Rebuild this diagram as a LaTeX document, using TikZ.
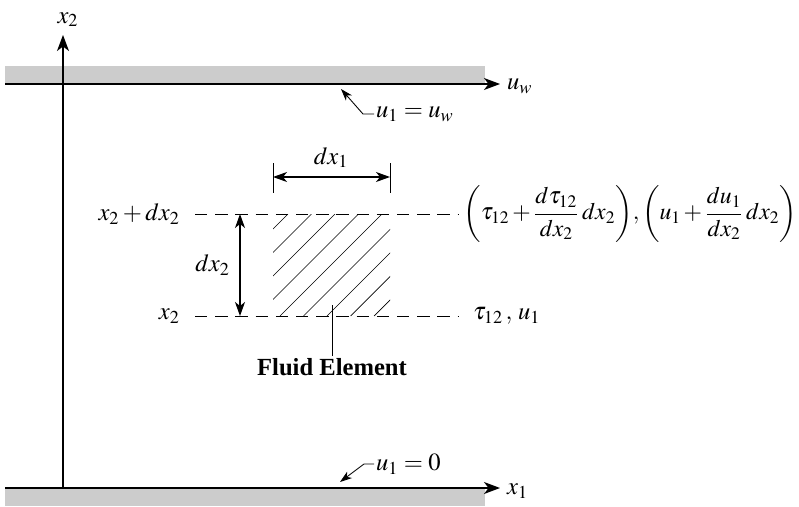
\documentclass[tikz,border=0pt]{standalone}
\usepackage{mathptmx}
\usepackage{fontspec}
\setmainfont{Liberation Serif}
\usetikzlibrary{arrows.meta}
\definecolor{WallGray}{RGB}{204,204,204}
\tikzset{
  axis/.style={-{Stealth[length=3.2mm,width=2.4mm,inset=0.9mm]},line width=0.8pt},
  wall/.style={fill=WallGray,draw=none},
  dimline/.style={{Stealth[length=2.8mm,width=2mm,inset=0.8mm]}-{Stealth[length=2.8mm,width=2mm,inset=0.8mm]},line width=0.7pt},
  leader/.style={-{Stealth[length=2.4mm,width=1.6mm,inset=0.7mm]},line width=0.5pt},
  guide/.style={dash pattern=on 7pt off 4.5pt,line width=0.5pt},
  hatch/.style={line width=0.4pt},
  lbl/.style={inner sep=1pt,font=\fontsize{14}{17}\selectfont}
}

\begin{document}
\begin{tikzpicture}[x=0.02cm,y=-0.02cm]
  \useasboundingbox (0,0) rectangle (799,507);
  % walls
  \fill[wall] (5,66) rectangle (485,84);
  \fill[wall] (5,488) rectangle (485,506);
  \coordinate (topL) at (5,84);
  \coordinate (topR) at (500,84);
  \coordinate (botL) at (5,488);
  \coordinate (botR) at (500,488);
  \coordinate (orig) at (63,488);
  \coordinate (x2tip) at (63,35);
  \draw[axis] (topL) -- (topR);
  \draw[axis] (botL) -- (botR);
  \draw[axis] (orig) -- (x2tip);
  \node[lbl,anchor=south] (x2ax) at (68,29) {$x_2$};
  \node[lbl,anchor=west] (uwax) at (505,86) {$u_w$};
  \node[lbl,anchor=west] (x1ax) at (505,491) {$x_1$};

  % wall velocities
  \node[lbl,anchor=west] (uwlab) at (374,114) {$u_1 = u_w$};
  \coordinate (uwtip) at (341,89);
  \draw[leader] (uwlab.west) -- ++(-11,0) -- (uwtip);
  \node[lbl,anchor=west] (uzlab) at (374,464) {$u_1 = 0$};
  \coordinate (uztip) at (340,482);
  \draw[leader] (uzlab.west) -- ++(-10,0) -- (uztip);

  % fluid element
  \begin{scope}
    \clip (273,214) rectangle (390,316);
    \foreach \k in {-4,...,4}
      \draw[hatch] (280+23.5*\k,316) -- ++(102,-102);
  \end{scope}
  \coordinate (gTL) at (195,214);
  \coordinate (gTR) at (458,214);
  \coordinate (gBL) at (195,316);
  \coordinate (gBR) at (458,316);
  \draw[guide] (gTL) -- (gTR);
  \draw[guide] (gBL) -- (gBR);
  \node[lbl,anchor=east] (ytop) at (182,214) {$x_2 + dx_2$};
  \node[lbl,anchor=east] (ybot) at (182,316) {$x_2$};
  \node[lbl,anchor=west,inner sep=0pt,font=\fontsize{13.5}{16}\selectfont] (stop) at (463,214)
    {$\medmuskip=2mu\displaystyle\biggl(\tau_{12} + \frac{d\tau_{12}}{dx_2}\,dx_2\biggr), \biggl(u_1 + \frac{du_1}{dx_2}\,dx_2\biggr)$};
  \node[lbl,anchor=west] (sbot) at (471,316) {$\tau_{12}\,,\,u_1$};

  % dimensions
  \draw[line width=0.5pt] (273,163) -- (273,193);
  \draw[line width=0.5pt] (390,163) -- (390,193);
  \coordinate (dxL) at (273,177);
  \coordinate (dxR) at (390,177);
  \draw[dimline] (dxL) -- (dxR);
  \node[lbl,anchor=south] (dx1) at (331,170) {$dx_1$};
  \coordinate (dyT) at (240,214);
  \coordinate (dyB) at (240,316);
  \draw[dimline] (dyT) -- (dyB);
  \node[lbl,anchor=east] (dx2) at (232,265) {$dx_2$};

  \node[lbl,anchor=north] (fluid) at (332,356) {\textbf{Fluid Element}};
  \coordinate (felem) at (331,305);
  \draw[line width=0.5pt] (fluid.north) -- (fluid.north |- felem);
\end{tikzpicture}
\end{document}
